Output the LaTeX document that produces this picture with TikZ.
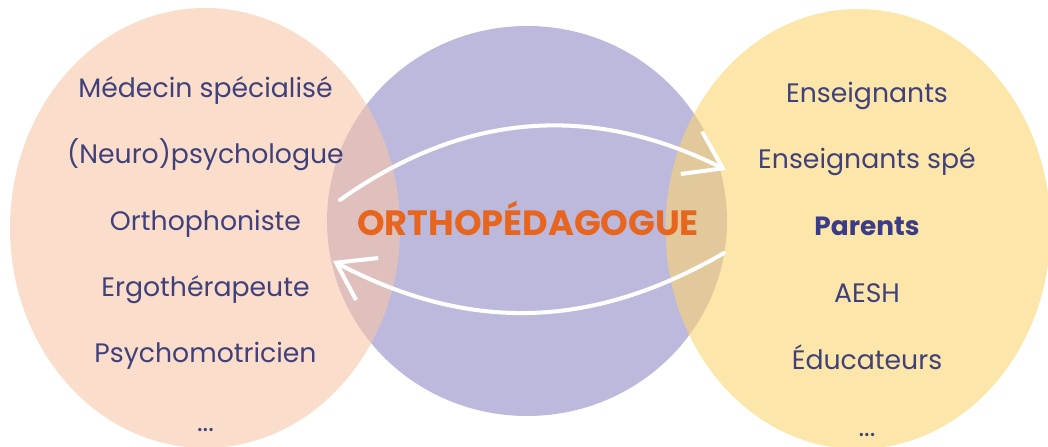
\documentclass[tikz,border=0pt]{standalone}
\usepackage{fontspec}
\setmainfont{Poppins}
\usetikzlibrary{arrows.meta,positioning,shapes}

\definecolor{lavande}{RGB}{189,185,221}
\definecolor{peche}{RGB}{248,198,168}
\definecolor{jaune}{RGB}{250,213,112}
\definecolor{encre}{RGB}{64,64,122}
\definecolor{encrefonce}{RGB}{58,60,135}
\definecolor{orange}{RGB}{232,101,30}

\begin{document}
\begin{tikzpicture}[->,>={Straight Barb[length=0.7cm,width=0.95cm]},auto,thin]
\tikzstyle{blob}=[ellipse,inner sep=0pt,draw=none]
\tikzstyle{role}=[text=encre,font=\fontsize{15.2}{18}\selectfont,text height=11.5pt,text depth=3pt,inner sep=0pt]
\tikzstyle{flow}=[draw=white,line width=2.3pt,line cap=round]

\useasboundingbox (0,0) rectangle (20.96,8.92);

% les trois bulles
\node[blob,fill=lavande,minimum width=8cm,minimum height=7.8cm] (mid) at (10.54,4.50) {};
\node[blob,fill=peche,fill opacity=0.6,minimum width=7.8cm,minimum height=8.8cm] (left) at (4.10,4.36) {};
\node[blob,fill=jaune,fill opacity=0.6,minimum width=7.7cm,minimum height=8.8cm] (right) at (17.16,4.34) {};

% colonne de gauche
\node[role]        (med)    at (4.11,7.12) {Médecin spécialisé};
\node[role]        (neuro)  [below of=med,node distance=1.33cm] {(Neuro)psychologue};
\node[role]        (ortho)  [below of=neuro,node distance=1.33cm] {Orthophoniste};
\node[role]        (ergo)   [below of=ortho,node distance=1.33cm] {Ergothérapeute};
\node[role]        (psymot) [below of=ergo,node distance=1.32cm] {Psychomotricien};
\node[role]        (etcG)   [below of=psymot,node distance=1.38cm] {...};

% colonne de droite
\node[role]        (ens)    at (17.34,7.02) {Enseignants};
\node[role]        (ensspe) [below of=ens,node distance=1.33cm] {Enseignants spé};
\node[role,text=encrefonce,font=\fontsize{15}{18}\bfseries] (par) [below of=ensspe,node distance=1.34cm] {Parents};
\node[role]        (aesh)   [below of=par,node distance=1.34cm] {AESH};
\node[role]        (educ)   [below of=aesh,node distance=1.34cm] {Éducateurs};
\node[role]        (etcD)   [below of=educ,node distance=1.34cm] {...};

% au centre
\node[text=orange,font=\fontsize{20}{22}\bfseries,text height=14pt,text depth=0pt,inner sep=0pt] (titre) at (10.56,4.46) {ORTHOPÉDAGOGUE};

\coordinate (h1) at (6.80,4.92);
\coordinate (h2) at (14.52,5.52);
\coordinate (b1) at (14.48,3.86);
\coordinate (b2) at (6.66,3.70);

\path
(h1) edge[flow,bend left=31] (h2)
(b1) edge[flow,bend left=29] (b2)
;
\end{tikzpicture}
\end{document}
